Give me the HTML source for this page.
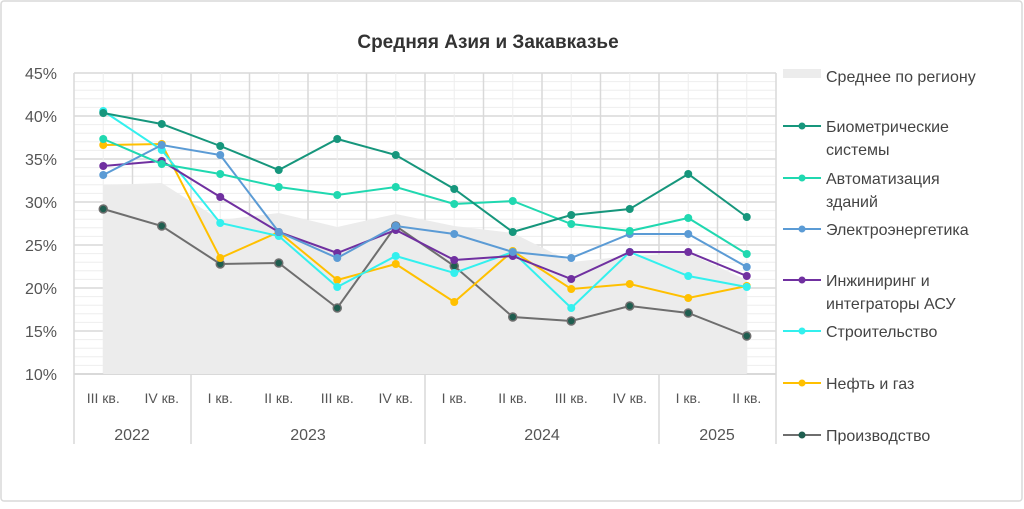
<!DOCTYPE html>
<html><head><meta charset="utf-8">
<style>
html,body{margin:0;padding:0;background:#fff;}
body{width:1024px;height:504px;overflow:hidden;}
svg text{font-family:"Liberation Sans","DejaVu Sans",sans-serif;}
</style></head>
<body>
<svg id="s" width="1024" height="504" xmlns="http://www.w3.org/2000/svg">
<rect x="1" y="1" width="1021" height="500" rx="3" fill="#fff" stroke="#d9d9d9" stroke-width="1.5"/>
<text x="488" y="48" text-anchor="middle" font-size="19" font-weight="bold" fill="#333">Средняя Азия и Закавказье</text>
<g id="grid"></g>
<g id="area"></g>
<g id="lines"></g>
<g font-size="16" fill="#555" text-anchor="end">
<text x="57" y="79">45%</text><text x="57" y="122">40%</text><text x="57" y="165">35%</text><text x="57" y="208">30%</text><text x="57" y="251">25%</text><text x="57" y="294">20%</text><text x="57" y="337">15%</text><text x="57" y="380">10%</text>
</g>
<g font-size="14" fill="#555" text-anchor="middle" id="xl"></g>
<g font-size="16" fill="#555" text-anchor="middle">
<text x="132" y="440">2022</text><text x="308" y="440">2023</text><text x="542" y="440">2024</text><text x="717" y="440">2025</text>
</g>
<g font-size="16" fill="#444" id="leg"></g>
</svg>
<script>
var NS="http://www.w3.org/2000/svg";
function el(p,t,a,txt){var e=document.createElementNS(NS,t);for(var k in a)e.setAttribute(k,a[k]);if(txt)e.textContent=txt;document.getElementById(p).appendChild(e);return e;}
var x0=74,x1=776,yt=73,yb=374,cw=58.5;
function X(i){return x0+cw*(i+0.5);}
for(var p=10;p<=45;p++){var y=yb-(p-10)*(yb-yt)/35;el('grid','line',{x1:x0,x2:x1,y1:y,y2:y,stroke:p%5==0?'#d9d9d9':'#eeeeee','stroke-width':p%5==0?1.5:1});}
for(var i=0;i<=24;i++){var x=x0+cw/2*i;el('grid','line',{x1:x,x2:x,y1:yt,y2:yb,stroke:i%2==0?'#d9d9d9':'#eeeeee','stroke-width':i%2==0?1.5:1});}
[74,191,425,659,776].forEach(function(x){el('grid','line',{x1:x,x2:x,y1:yb,y2:444,stroke:'#d9d9d9','stroke-width':1.5});});
el('grid','line',{x1:x0,x2:x1,y1:yb,y2:yb,stroke:'#d9d9d9','stroke-width':2});
var q=['III кв.','IV кв.','I кв.','II кв.','III кв.','IV кв.','I кв.','II кв.','III кв.','IV кв.','I кв.','II кв.'];
q.forEach(function(t,i){el('xl','text',{x:X(i),y:403},t);});
var av=[185,183,220,213,227,214,226,233,262,256,253,280];
var d='M'+X(0)+','+yb;av.forEach(function(v,i){d+=' L'+X(i)+','+v;});d+=' L'+X(11)+','+yb+' Z';
el('area','path',{d:d,fill:'#ececec'});
var S=[
['#6e6e6e','#1f5e50',[209,226,264,263,308,226,266,317,321,306,313,336]],
['#ffc000','#ffc000',[145,144,258,232,280,264,302,251,289,284,298,286]],
['#33f0ee','#33f0ee',[111,150,223,236,287,256,273,252,308,252,276,287]],
['#7030a0','#7030a0',[166,161,197,232,253,230,260,256,279,252,252,276]],
['#5b9bd5','#5b9bd5',[175,145,155,232,258,226,234,252,258,234,234,267]],
['#20d8b0','#20d8b0',[139,164,174,187,195,187,204,201,224,231,218,254]],
['#16967c','#16967c',[113,124,146,170,139,155,189,232,215,209,174,217]]
];
S.forEach(function(s){var pts=s[2].map(function(v,i){return X(i)+','+v;}).join(' ');
el('lines','polyline',{points:pts,fill:'none',stroke:s[0],'stroke-width':2});
s[2].forEach(function(v,i){el('lines','circle',{cx:X(i),cy:v,r:4,fill:s[1],stroke:s[0],'stroke-width':s[0]==s[1]?0:1.5});});});
el('leg','rect',{x:783,y:69,width:38,height:9,fill:'#ececec'});
el('leg','text',{x:826,y:82},'Среднее по региону');
var L=[['#16967c','#16967c',126,['Биометрические','системы']],['#20d8b0','#20d8b0',178,['Автоматизация','зданий']],['#5b9bd5','#5b9bd5',229,['Электроэнергетика']],['#7030a0','#7030a0',280,['Инжиниринг и','интеграторы АСУ']],['#33f0ee','#33f0ee',331,['Строительство']],['#ffc000','#ffc000',383,['Нефть и газ']],['#6e6e6e','#1f5e50',435,['Производство']]];
L.forEach(function(l){el('leg','line',{x1:783,x2:821,y1:l[2],y2:l[2],stroke:l[0],'stroke-width':2});el('leg','circle',{cx:802,cy:l[2],r:3.5,fill:l[1]});
l[3].forEach(function(t,j){el('leg','text',{x:826,y:l[2]+6+j*23},t);});});
</script>
</body></html>
